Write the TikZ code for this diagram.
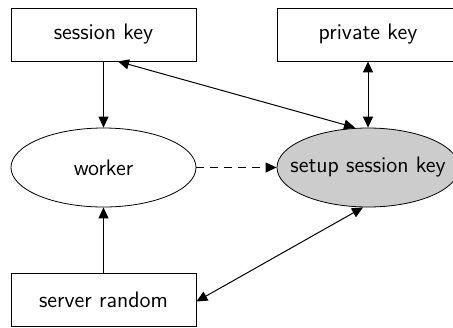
\documentclass[tikz,border=0pt]{standalone}
\usetikzlibrary{shapes.geometric,arrows.meta}
\begin{document}
\begin{tikzpicture}[x=0.5pt,y=-0.5pt,
  every node/.style={font=\sffamily\fontsize{11.2}{13}\selectfont, inner sep=0pt},
  keybox/.style={draw, rectangle, minimum width=92.5pt, minimum height=26.5pt},
  proc/.style={draw, ellipse, minimum width=92.5pt, minimum height=39.5pt},
  flow/.style={draw, line width=0.5pt, -{Triangle[length=5.5pt,width=5pt]}},
  both/.style={draw, line width=0.5pt, {Triangle[length=5.5pt,width=5pt]}-{Triangle[length=5.5pt,width=5pt]}}]
  \useasboundingbox (0,0) rectangle (453,327);
  % data and process nodes
  \node[keybox] (sk) at (103.5,34.5) {session key};
  \node[keybox, minimum width=91pt] (pk) at (368,34.5) {private key};
  \node[proc] (wk) at (103.5,167.5) {worker};
  \node[proc, fill=black!20, minimum width=91pt] (setup) at (368,167.5) {};
  \node (setuplabel) at (setup.center) {setup session key};
  \node[keybox] (sr) at (103.5,299.5) {server random};
  % connectors
  \path[flow] (sk.south) -- (wk.north);
  \path[flow] (sr.north) -- (wk.south);
  \path[both] ([xshift=7.25pt]sk.south) -- ([xshift=-6.5pt]setup.north);
  \path[both] (pk.south) -- (setup.north);
  \path[flow, dashed, dash pattern=on 4pt off 3pt] (wk.east) -- (setup.west);
  \path[both] ([yshift=-1pt]sr.east) -- ([xshift=-2.5pt]setup.south);
\end{tikzpicture}
\end{document}
